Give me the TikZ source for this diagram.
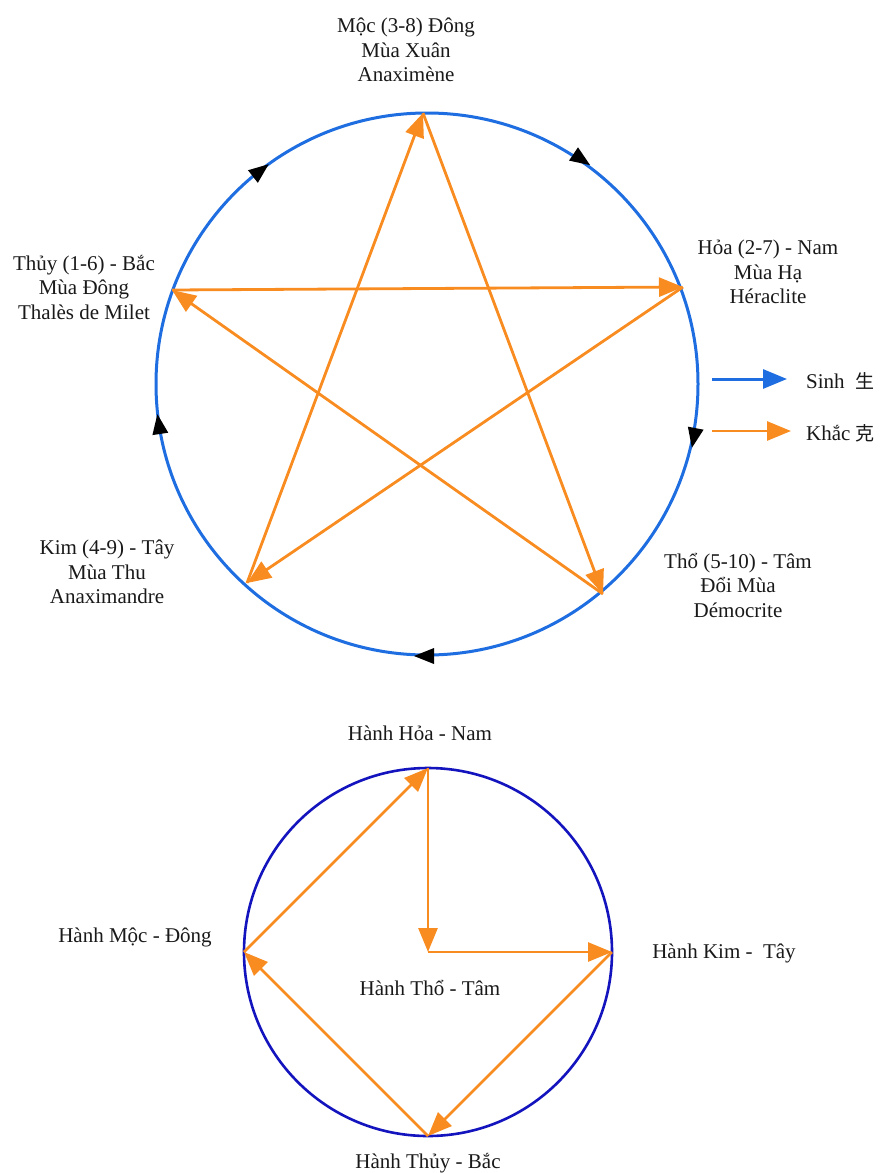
\documentclass[tikz,border=0pt]{standalone}
\usepackage{fontspec}
\setmainfont{Liberation Serif}
\newfontfamily\cjk{Noto Sans CJK SC}
\usetikzlibrary{arrows.meta}
\definecolor{sinhblue}{RGB}{30,110,225}
\definecolor{khacorange}{RGB}{248,140,32}
\definecolor{darkblue}{RGB}{20,20,190}
\definecolor{txt}{RGB}{25,25,25}
\newcommand\cwtip[2]{\fill[black, shift={(#1)}, rotate=#2] (11pt,0) -- (-9pt,8pt) -- (-9pt,-8pt) -- cycle;}
\begin{document}
\begin{tikzpicture}[x=1pt,y=-1pt,
  lbl/.style={font=\fontsize{21}{24.5}\selectfont, align=center, inner sep=0pt, text=txt},
  khac/.style={draw=khacorange, line width=2.8pt, -{Triangle[length=24pt,width=19pt]}},
  sinharrow/.style={draw=sinhblue, line width=3pt, -{Triangle[length=24pt,width=19pt]}},
  sinhcircle/.style={draw=sinhblue, line width=3pt},
  bottomcircle/.style={draw=darkblue, line width=2.6pt}]
\useasboundingbox (0,0) rectangle (881,1173);
\fill[white] (0,0) rectangle (881,1173);
% ---------- top diagram ----------
\coordinate (tc) at (427,384);
\draw[sinhcircle] (tc) circle[radius=271pt];
\cwtip{260,171}{38}
\cwtip{581,159}{-34}
\cwtip{694,437}{-101}
\cwtip{425,656}{180}
\cwtip{159,425}{98.5}
\coordinate (moc) at (423,113);
\coordinate (hoa) at (683,287);
\coordinate (tho) at (603,594);
\coordinate (kim) at (247,583);
\coordinate (thuy) at (172,290);
\draw[khac] (kim) -- (moc);
\draw[khac] (moc) -- (tho);
\draw[khac] (tho) -- (thuy);
\draw[khac] (thuy) -- (hoa);
\draw[khac] (hoa) -- (kim);
\node[lbl] (lmoc) at (406,50) {Mộc (3-8) Đông\\Mùa Xuân\\Anaximène};
\node[lbl] (lthuy) at (84,287) {Thủy (1-6) - Bắc\\Mùa Đông\\Thalès de Milet};
\node[lbl] (lhoa) at (768,272) {Hỏa (2-7) - Nam\\Mùa Hạ\\Héraclite};
\node[lbl] (lkim) at (107,572) {Kim (4-9) - Tây\\Mùa Thu\\Anaximandre};
\node[lbl] (ltho) at (738,585) {Thổ (5-10) - Tâm\\Đổi Mùa\\Démocrite};
% legend
\coordinate (s1) at (712,379);
\coordinate (s2) at (787,379);
\coordinate (k1) at (712,431);
\coordinate (k2) at (791,431);
\draw[sinharrow] (s1) -- (s2);
\draw[khac] (k1) -- (k2);
\node[lbl, anchor=west] (lsinh) at (806,381) {Sinh\ \ {\cjk\fontsize{19}{22}\selectfont 生}};
\node[lbl, anchor=west] (lkhac) at (806,433) {Khắc {\cjk\fontsize{19}{22}\selectfont 克}};
% ---------- bottom diagram ----------
\coordinate (bc) at (428,952);
\draw[bottomcircle] (bc) circle[radius=184pt];
\coordinate (bh) at (428,768);
\coordinate (bm) at (244,952);
\coordinate (bk) at (612,952);
\coordinate (bt) at (428,1136);
\draw[khac] (bm) -- (bh);
\draw[khac] (bh) -- (bc);
\draw[khac] (bc) -- (bk);
\draw[khac] (bk) -- (bt);
\draw[khac] (bt) -- (bm);
\node[lbl] (lbh) at (420,733) {Hành Hỏa - Nam};
\node[lbl] (lbm) at (135,937) {Hành Mộc - Đông};
\node[lbl] (lbk) at (724,953) {Hành Kim -\ \ Tây};
\node[lbl] (lbc) at (430,988) {Hành Thổ - Tâm};
\node[lbl] (lbt) at (428,1163) {Hành Thủy - Bắc};
\end{tikzpicture}
\end{document}
